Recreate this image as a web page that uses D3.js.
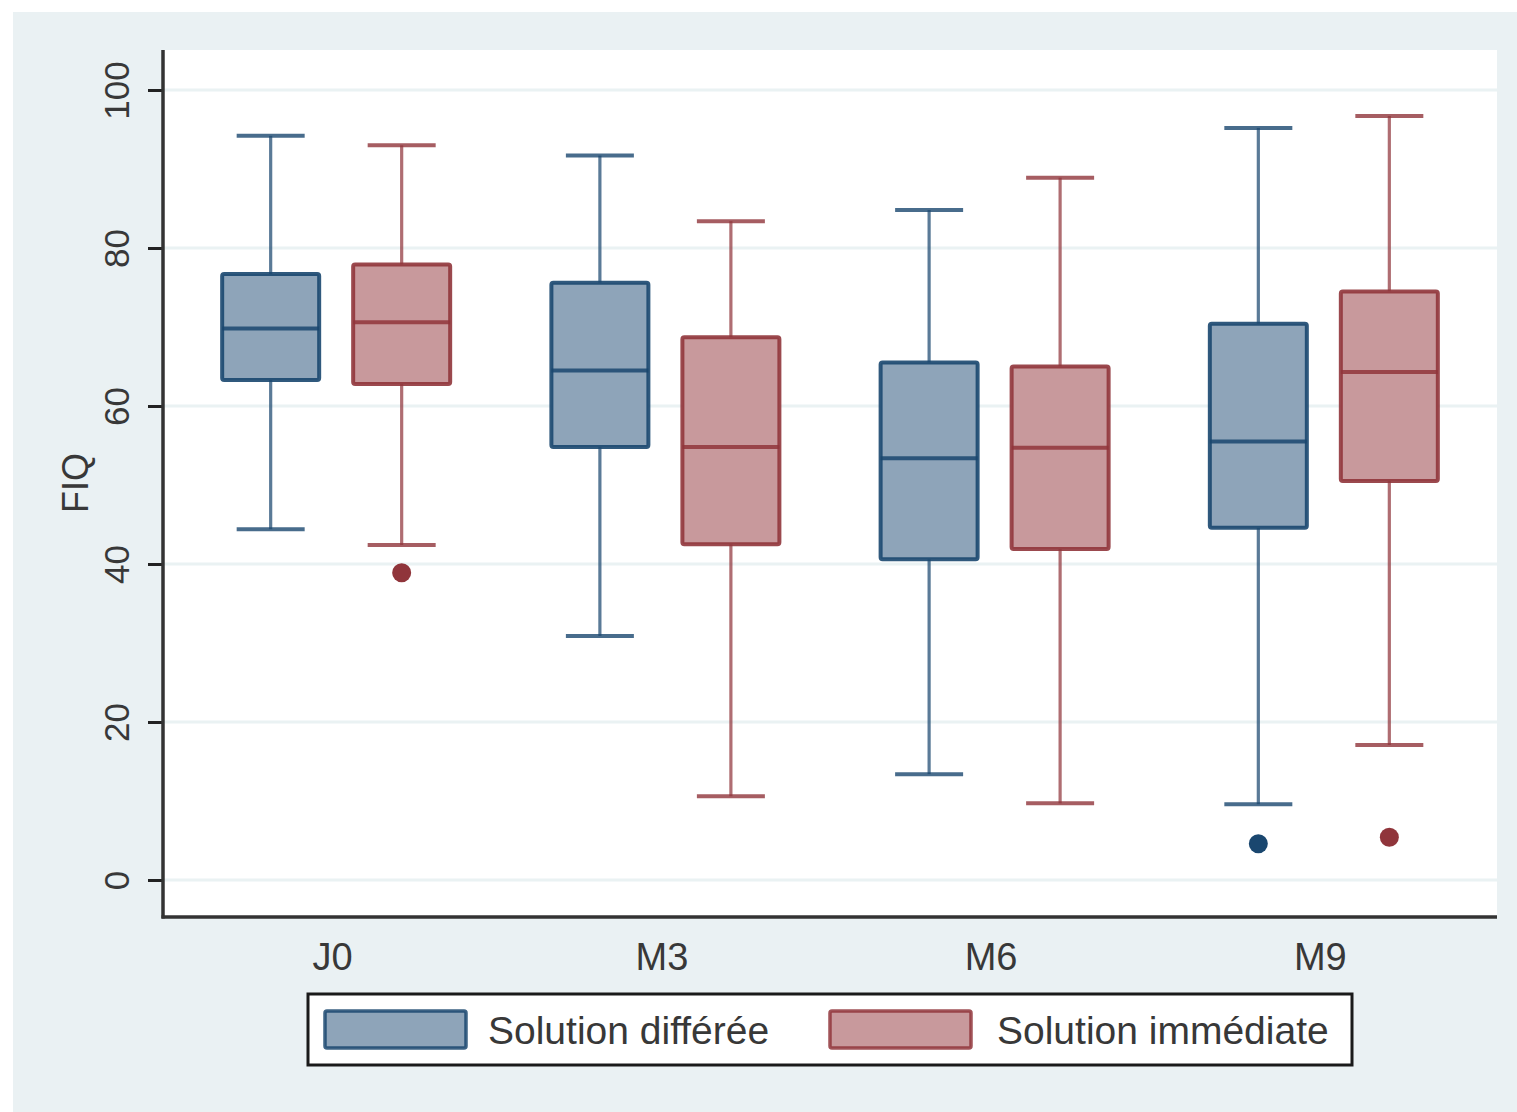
<!DOCTYPE html>
<html>
<head>
<meta charset="utf-8">
<script src="https://cdn.jsdelivr.net/npm/d3@7"></script>
<style>
  html, body { margin: 0; padding: 0; background: #ffffff; }
  svg { display: block; }
  text { font-family: "Liberation Sans", Arial, Helvetica, sans-serif; fill: #383838; }
</style>
</head>
<body>
<svg id="chart" width="1517" height="1112"></svg>
<script>
// ---- data ----
const categories = ["J0", "M3", "M6", "M9"];
const seriesNames = ["Solution différée", "Solution immédiate"];

const differeeMin = [44.4, 30.9, 13.4, 9.6];
const differeeQ1  = [63.3, 54.8, 40.6, 44.6];
const differeeMed = [69.8, 64.5, 53.4, 55.5];
const differeeQ3  = [76.7, 75.6, 65.5, 70.4];
const differeeMax = [94.2, 91.7, 84.8, 95.2];
const differeeOut = [[], [], [], [4.6]];

const immediateMin = [42.4, 10.6, 9.7, 17.1];
const immediateQ1  = [62.8, 42.5, 41.9, 50.5];
const immediateMed = [70.6, 54.8, 54.7, 64.3];
const immediateQ3  = [77.9, 68.7, 65.0, 74.5];
const immediateMax = [93.0, 83.4, 88.9, 96.7];
const immediateOut = [[38.9], [], [], [5.4]];

const yTicks = [0, 20, 40, 60, 80, 100];
const yTitle = "FIQ";

// ---- styling ----
const strokeCol = ["#1a476f", "#90353b"];
const fillCol = ["#8ea4b9", "#c8999c"];

const svg = d3.select("#chart");
const W = 1517, H = 1112;
const plot = { left: 163, right: 1497, top: 50, bottom: 917 };

// outer background
svg.append("rect").attr("x", 13).attr("y", 12).attr("width", W - 13).attr("height", H - 12).attr("fill", "#eaf1f3");
// plot region
svg.append("rect").attr("x", plot.left).attr("y", plot.top)
  .attr("width", plot.right - plot.left).attr("height", plot.bottom - plot.top).attr("fill", "#ffffff");

const y = d3.scaleLinear().domain([0, 100]).range([880, 90]);
const x = d3.scalePoint().domain(categories).range([plot.left, plot.right]).padding(0.526);
const xs = d3.scalePoint().domain(seriesNames).range([-65.5, 65.5]);
const boxW = 97, capW = 68;

// gridlines
svg.append("g").selectAll("line").data(yTicks).join("line")
  .attr("x1", plot.left).attr("x2", plot.right)
  .attr("y1", d => y(d)).attr("y2", d => y(d))
  .attr("stroke", "#eaf2f3").attr("stroke-width", 3);

// build box data
const boxes = [];
categories.forEach((c, i) => {
  boxes.push({ cat: c, s: 0, name: seriesNames[0], min: differeeMin[i], q1: differeeQ1[i], med: differeeMed[i], q3: differeeQ3[i], max: differeeMax[i], out: differeeOut[i] });
  boxes.push({ cat: c, s: 1, name: seriesNames[1], min: immediateMin[i], q1: immediateQ1[i], med: immediateMed[i], q3: immediateQ3[i], max: immediateMax[i], out: immediateOut[i] });
});

const g = svg.append("g").selectAll("g").data(boxes).join("g")
  .attr("transform", d => `translate(${x(d.cat) + xs(d.name)},0)`);

// whiskers
g.append("line").attr("x1", 0).attr("x2", 0).attr("y1", d => y(d.q3)).attr("y2", d => y(d.max))
  .attr("stroke", d => strokeCol[d.s]).attr("stroke-width", 3.2).attr("stroke-opacity", 0.72);
g.append("line").attr("x1", 0).attr("x2", 0).attr("y1", d => y(d.q1)).attr("y2", d => y(d.min))
  .attr("stroke", d => strokeCol[d.s]).attr("stroke-width", 3.2).attr("stroke-opacity", 0.72);
// caps
g.append("line").attr("x1", -capW / 2).attr("x2", capW / 2).attr("y1", d => y(d.max)).attr("y2", d => y(d.max))
  .attr("stroke", d => strokeCol[d.s]).attr("stroke-width", 4).attr("stroke-opacity", 0.8);
g.append("line").attr("x1", -capW / 2).attr("x2", capW / 2).attr("y1", d => y(d.min)).attr("y2", d => y(d.min))
  .attr("stroke", d => strokeCol[d.s]).attr("stroke-width", 4).attr("stroke-opacity", 0.8);
// box
g.append("rect").attr("x", -boxW / 2).attr("width", boxW)
  .attr("y", d => y(d.q3)).attr("height", d => y(d.q1) - y(d.q3))
  .attr("fill", d => fillCol[d.s]).attr("stroke", d => strokeCol[d.s]).attr("stroke-width", 4)
  .attr("stroke-opacity", 0.9).attr("rx", 2);
// median
g.append("line").attr("x1", -boxW / 2).attr("x2", boxW / 2).attr("y1", d => y(d.med)).attr("y2", d => y(d.med))
  .attr("stroke", d => strokeCol[d.s]).attr("stroke-width", 4).attr("stroke-opacity", 0.85);
// outliers
g.selectAll("circle").data(d => d.out.map(v => ({ v, s: d.s }))).join("circle")
  .attr("cx", 0).attr("cy", d => y(d.v)).attr("r", 9.5).attr("fill", d => strokeCol[d.s]);

// y axis
const yAxis = d3.axisLeft(y).tickValues(yTicks).tickSize(15).tickPadding(18).tickFormat(d3.format("d"));
const ya = svg.append("g").attr("transform", `translate(${plot.left},0)`).call(yAxis);
ya.select(".domain").remove();
ya.selectAll(".tick line").attr("stroke", "#222").attr("stroke-width", 3);
ya.selectAll(".tick text")
  .attr("x", null).attr("dy", null)
  .attr("transform", "translate(-34,0) rotate(-90)")
  .attr("text-anchor", "middle").attr("y", 0)
  .style("font-size", "35px").attr("fill", "#383838");
svg.append("line").attr("x1", plot.left).attr("x2", plot.left).attr("y1", plot.top).attr("y2", plot.bottom + 1.5)
  .attr("stroke", "#333").attr("stroke-width", 3.5);

// y title
svg.append("text").attr("transform", `translate(88,483) rotate(-90)`)
  .attr("text-anchor", "middle").style("font-size", "36px").text(yTitle);

// x axis
const xAxis = d3.axisBottom(x).tickSize(0).tickPadding(0);
const xa = svg.append("g").attr("transform", `translate(0,${plot.bottom})`).call(xAxis);
xa.select(".domain").remove();
xa.selectAll(".tick text").attr("x", -4).attr("y", 53).attr("dy", null).style("font-size", "38px").attr("fill", "#383838");
svg.append("line").attr("x1", plot.left - 1.5).attr("x2", plot.right).attr("y1", plot.bottom).attr("y2", plot.bottom)
  .attr("stroke", "#333").attr("stroke-width", 3.5);

// legend
const leg = svg.append("g");
leg.append("rect").attr("x", 308).attr("y", 994).attr("width", 1044).attr("height", 71)
  .attr("fill", "#ffffff").attr("stroke", "#1a1a1a").attr("stroke-width", 3);
const legX = [325, 830];
const legTextX = [488, 997];
const legItems = leg.selectAll("g.item").data(seriesNames).join("g").attr("class", "item");
legItems.append("rect").attr("x", (d, i) => legX[i]).attr("y", 1011).attr("width", 141).attr("height", 37)
  .attr("fill", (d, i) => fillCol[i]).attr("stroke", (d, i) => strokeCol[i]).attr("stroke-width", 3.5)
  .attr("stroke-opacity", 0.85).attr("rx", 2);
legItems.append("text").attr("x", (d, i) => legTextX[i]).attr("y", 1044)
  .style("font-size", "39px").text(d => d);
</script>
</body>
</html>
